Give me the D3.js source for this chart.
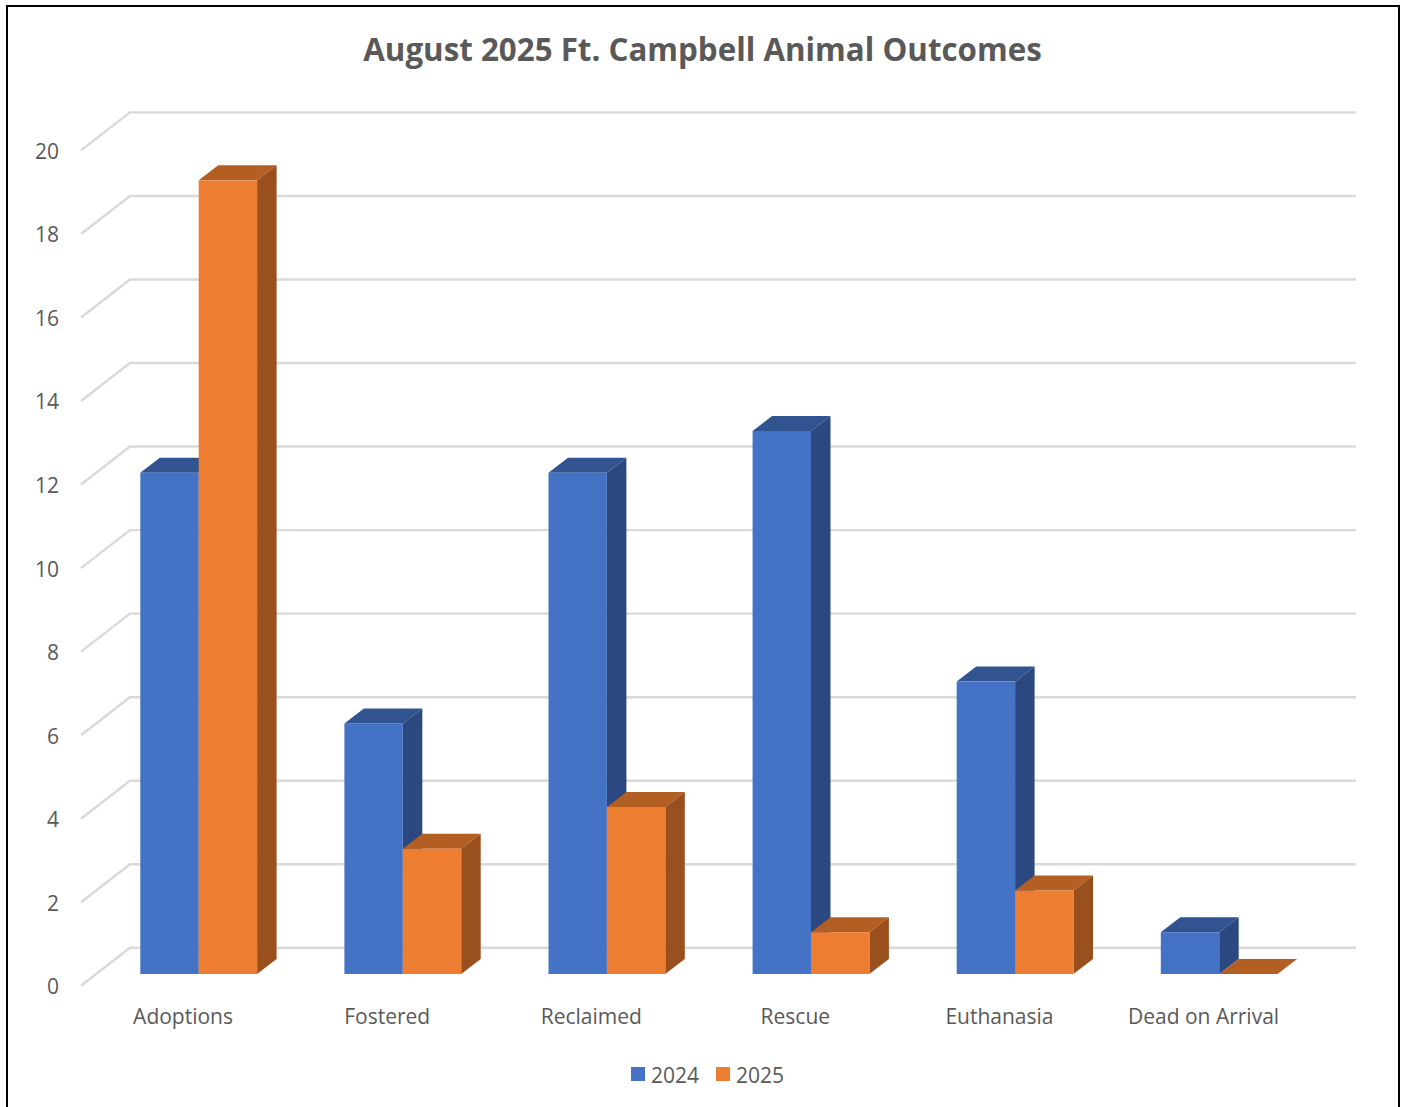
<!DOCTYPE html>
<html>
<head>
<meta charset="utf-8">
<script src="https://cdn.jsdelivr.net/npm/d3@7"></script>
<style>
  html, body { margin: 0; padding: 0; background: #fff; overflow: hidden; }
  text { font-family: "Open Sans", sans-serif; fill: #595959; }
</style>
</head>
<body>
<div id="chart"></div>
<script>
const categories = ['Adoptions', 'Fostered', 'Reclaimed', 'Rescue', 'Euthanasia', 'Dead on Arrival'];
const seriesNames = ['2024', '2025'];
const values2024 = [12, 6, 12, 13, 7, 1];
const values2025 = [19, 3, 4, 1, 2, 0];
const yTicks = [0, 2, 4, 6, 8, 10, 12, 14, 16, 18, 20];

// Colours for front, side and top faces
const faces = {
  '2024': { front: '#4472c4', side: '#2b4880', top: '#31538f' },
  '2025': { front: '#ed7d31', side: '#9a501e', top: '#b35e23' }
};

const width = 1405;
const height = 1107;

const svg = d3.select('#chart')
  .append('svg')
  .attr('width', width)
  .attr('height', height)
  .style('display', 'block');

// Outer border, runs off the bottom of the picture
svg.append('rect')
  .attr('x', 7)
  .attr('y', 6)
  .attr('width', 1392)
  .attr('height', 1140)
  .attr('fill', '#fff')
  .attr('stroke', '#000')
  .attr('stroke-width', 2);

// Scales for the front plane
const x = d3.scaleBand().domain(categories).range([81, 1305.6]);
const y = d3.scaleLinear().domain([0, 20]).range([974, 138.6]);
const inner = d3.scaleBand().domain(seriesNames).range([59.3, 176.1]);

// Depth offsets: the floor and the bars
const wallDx = 49, wallDy = -38;
const barDx = 19.5, barDy = -15;
const floorOffset = 11.8; // gridlines start below the bar base at the front

// Gridlines: short diagonal on the side wall, then along the back wall
const gridY = v => y(v) + floorOffset;
svg.append('g')
  .selectAll('path')
  .data(yTicks)
  .enter()
  .append('path')
  .attr('d', d => `M81,${gridY(d)}L${81 + wallDx},${gridY(d) + wallDy}H1356`)
  .attr('fill', 'none')
  .attr('stroke', '#d9d9d9')
  .attr('stroke-width', 2.4);

// Y axis labels
const yAxis = svg.append('g')
  .attr('transform', `translate(59,${floorOffset + 0.4})`)
  .call(d3.axisLeft(y).tickValues(yTicks).tickSize(0).tickPadding(0));
yAxis.select('.domain').remove();
yAxis.selectAll('text')
  .style('font-family', '"Open Sans", sans-serif')
  .style('font-size', '21px')
  .attr('fill', '#595959')
  .attr('dy', '0.36em');

// X axis labels
const xAxis = svg.append('g')
  .attr('transform', 'translate(0,1004)')
  .call(d3.axisBottom(x).tickSize(0).tickPadding(0));
xAxis.select('.domain').remove();
xAxis.selectAll('text')
  .style('font-family', '"Open Sans", sans-serif')
  .style('font-size', '21px')
  .attr('fill', '#595959')
  .attr('dy', '0.36em')
  .attr('y', 12.5);

// Bars as three faces, drawn left to right so later ones sit on top
const rows = categories.flatMap((c, i) => [
  { category: c, series: '2024', value: values2024[i] },
  { category: c, series: '2025', value: values2025[i] }
]);

const bar = svg.append('g')
  .selectAll('g')
  .data(rows)
  .enter()
  .append('g')
  .attr('transform', d => `translate(${x(d.category) + inner(d.series)},0)`);

const w = inner.bandwidth();

bar.append('path')
  .attr('d', d => `M0,${y(d.value)}l${barDx},${barDy}h${w}l${-barDx},${-barDy}Z`)
  .attr('fill', d => faces[d.series].top);

bar.filter(d => d.value > 0)
  .append('path')
  .attr('d', d => `M${w},${y(d.value)}l${barDx},${barDy}V${y(0) + barDy}l${-barDx},${-barDy}Z`)
  .attr('fill', d => faces[d.series].side);

bar.filter(d => d.value > 0)
  .append('rect')
  .attr('width', w)
  .attr('y', d => y(d.value))
  .attr('height', d => y(0) - y(d.value))
  .attr('fill', d => faces[d.series].front);

// Title
svg.append('text')
  .attr('x', 702.5)
  .attr('y', 61)
  .attr('text-anchor', 'middle')
  .style('font-size', '31.3px')
  .style('font-weight', 700)
  .text('August 2025 Ft. Campbell Animal Outcomes');

// Legend
const legendX = d3.scaleOrdinal().domain(seriesNames).range([631, 716]);
const legend = svg.append('g')
  .selectAll('g')
  .data(seriesNames)
  .enter()
  .append('g')
  .attr('transform', d => `translate(${legendX(d)},1067)`);

legend.append('rect')
  .attr('width', 14)
  .attr('height', 14)
  .attr('fill', d => faces[d].front);

legend.append('text')
  .attr('x', 20)
  .attr('y', 15.7)
  .style('font-size', '21px')
  .text(d => d);
</script>
</body>
</html>
